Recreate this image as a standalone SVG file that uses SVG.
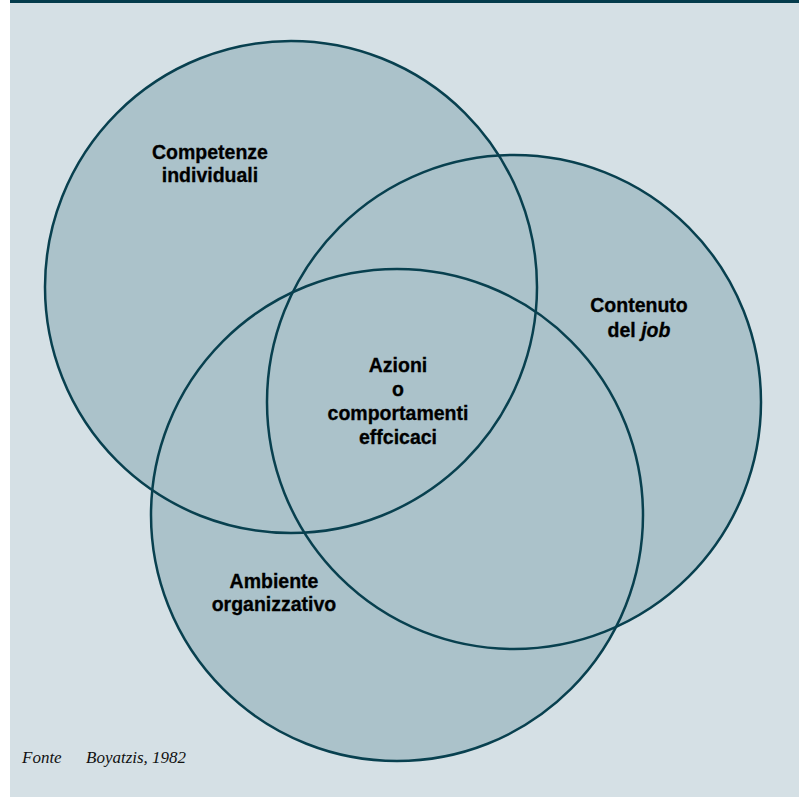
<svg xmlns="http://www.w3.org/2000/svg" width="799" height="797" viewBox="0 0 799 797">
<style>
.fill{fill:#abc2ca;stroke:none}
.ring{fill:none;stroke:#08404f;stroke-width:2.5}
.lbl{font-family:"Liberation Sans",Arial,sans-serif;font-weight:bold;font-size:19.5px;fill:#000;text-anchor:middle;stroke:#000;stroke-width:0.3}
.src{font-family:"Liberation Serif","Times New Roman",serif;font-style:italic;font-size:17px;fill:#111}
</style>
<rect x="0" y="0" width="799" height="797" fill="#ffffff"/>
<rect x="10" y="0" width="789" height="797" fill="#d5e0e5"/>
<rect x="10" y="0" width="789" height="3" fill="#053c4c"/>
<g id="fills">
<circle class="fill" cx="291" cy="287" r="246"/>
<circle class="fill" cx="514" cy="402" r="247"/>
<circle class="fill" cx="397" cy="515" r="246"/>
</g>
<g id="competenze">
<circle class="ring" cx="291" cy="287" r="246"/>
<text class="lbl" x="210" y="159">Competenze</text>
<text class="lbl" x="210" y="182">individuali</text>
</g>
<g id="contenuto">
<circle class="ring" cx="514" cy="402" r="247"/>
<text class="lbl" x="639" y="312">Contenuto</text>
<text class="lbl" x="639" y="337">del <tspan font-style="italic">job</tspan></text>
</g>
<g id="ambiente">
<circle class="ring" cx="397" cy="515" r="246"/>
<text class="lbl" x="274" y="588">Ambiente</text>
<text class="lbl" x="274" y="611">organizzativo</text>
</g>
<g id="azioni">
<text class="lbl" x="398" y="372">Azioni</text>
<text class="lbl" x="398" y="396">o</text>
<text class="lbl" x="398" y="420">comportamenti</text>
<text class="lbl" x="398" y="444">effcicaci</text>
</g>
<g id="fonte">
<text class="src" x="22" y="763">Fonte</text>
<text class="src" x="86" y="763">Boyatzis, 1982</text>
</g>
</svg>
